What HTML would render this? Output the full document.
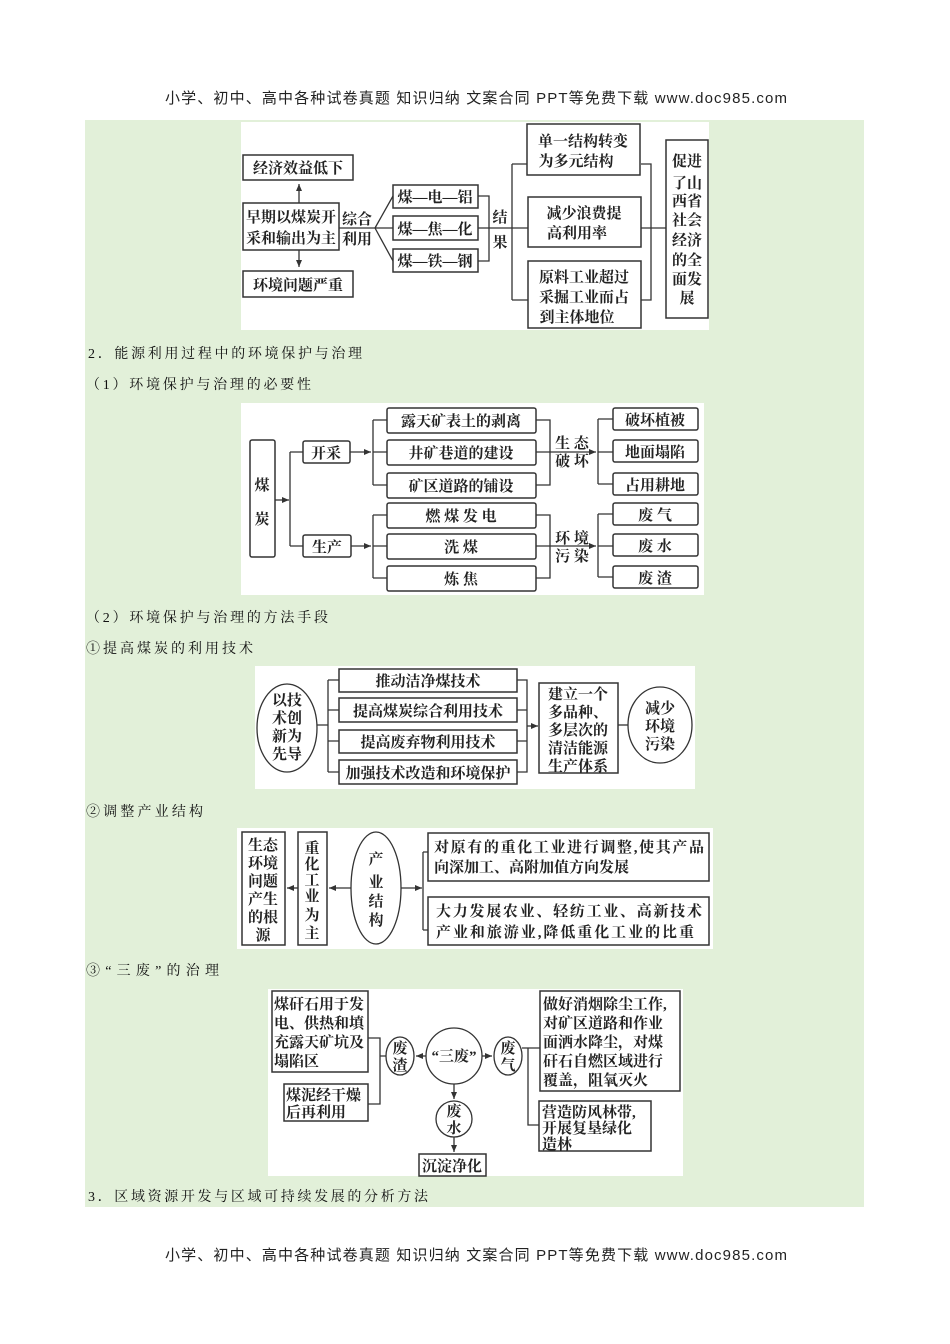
<!DOCTYPE html>
<html><head><meta charset="utf-8"><style>
html,body{margin:0;padding:0;background:#fff;}
svg{display:block;}
.h{font-family:"Liberation Sans","Noto Sans CJK SC",sans-serif;font-size:15px;fill:#222;}
.t{font-family:"Liberation Serif","Noto Serif CJK SC",serif;font-size:14px;fill:#111;}
.b{font-family:"Liberation Serif","Noto Serif CJK SC",serif;font-size:15px;font-weight:bold;fill:#222;}
rect.x{fill:#fff;stroke:#333;stroke-width:1.5;}
.l{fill:none;stroke:#333;stroke-width:1.3;}
ellipse{fill:#fff;stroke:#333;stroke-width:1.3;}
</style></head><body>
<svg width="950" height="1344" viewBox="0 0 950 1344" xmlns="http://www.w3.org/2000/svg">
<defs><marker id="a" markerWidth="8" markerHeight="8" refX="7" refY="4" orient="auto" markerUnits="userSpaceOnUse"><path d="M0,1 L7,4 L0,7 Z" fill="#333"/></marker></defs>
<text class="h" x="165" y="103" textLength="622" lengthAdjust="spacing">小学、初中、高中各种试卷真题  知识归纳  文案合同  PPT等免费下载      www.doc985.com</text>
<text class="h" x="165" y="1260" textLength="622" lengthAdjust="spacing">小学、初中、高中各种试卷真题  知识归纳  文案合同  PPT等免费下载      www.doc985.com</text>
<rect x="85" y="120" width="779" height="1087" fill="#e2f0d9"/>

<!-- Diagram 1 -->
<rect x="241" y="122" width="468" height="208" fill="#fff"/>
<rect class="x" x="243" y="155" width="110" height="25"/><text class="b" x="298" y="173" text-anchor="middle">经济效益低下</text>
<rect class="x" x="243" y="203" width="96" height="47"/><text class="b" x="291" y="222" text-anchor="middle">早期以煤炭开</text><text class="b" x="291" y="243" text-anchor="middle">采和输出为主</text>
<rect class="x" x="243" y="271" width="110" height="26"/><text class="b" x="298" y="290" text-anchor="middle">环境问题严重</text>
<path class="l" d="M299,203 V184" marker-end="url(#a)"/><path class="l" d="M299,250 V267" marker-end="url(#a)"/>
<text class="b" x="357" y="224" text-anchor="middle">综合</text><text class="b" x="357" y="244" text-anchor="middle">利用</text>
<path class="l" d="M339,228 H375 M375,228 L393,196 M375,228 H393 M375,228 L393,261"/>
<rect class="x" x="393" y="185" width="85" height="23"/><text class="b" x="435" y="202" text-anchor="middle">煤—电—铝</text>
<rect class="x" x="393" y="216" width="85" height="24"/><text class="b" x="435" y="234" text-anchor="middle">煤—焦—化</text>
<rect class="x" x="393" y="249" width="85" height="23"/><text class="b" x="435" y="266" text-anchor="middle">煤—铁—钢</text>
<path class="l" d="M478,196 H489 V261 H478 M478,228 H528"/>
<text class="b" x="500" y="222" text-anchor="middle">结</text><text class="b" x="500" y="247" text-anchor="middle">果</text>
<path class="l" d="M512,164 V300 M512,164 H528 M512,300 H528"/>
<rect class="x" x="527" y="124" width="113" height="51"/><text class="b" x="583" y="146" text-anchor="middle">单一结构转变</text><text class="b" x="576" y="166" text-anchor="middle">为多元结构</text>
<rect class="x" x="528" y="197" width="113" height="50"/><text class="b" x="584" y="218" text-anchor="middle">减少浪费提</text><text class="b" x="577" y="238" text-anchor="middle">高利用率</text>
<rect class="x" x="528" y="261" width="113" height="67"/><text class="b" x="584" y="282" text-anchor="middle">原料工业超过</text><text class="b" x="584" y="302" text-anchor="middle">采掘工业而占</text><text class="b" x="577" y="322" text-anchor="middle">到主体地位</text>
<path class="l" d="M641,164 H651 V300 H641 M641,228 H666"/>
<rect class="x" x="666" y="140" width="42" height="178"/>
<text class="b" x="687" y="166" text-anchor="middle">促进</text><text class="b" x="687" y="188" text-anchor="middle">了山</text><text class="b" x="687" y="206" text-anchor="middle">西省</text><text class="b" x="687" y="225" text-anchor="middle">社会</text><text class="b" x="687" y="245" text-anchor="middle">经济</text><text class="b" x="687" y="265" text-anchor="middle">的全</text><text class="b" x="687" y="284" text-anchor="middle">面发</text><text class="b" x="687" y="303" text-anchor="middle">展</text>

<text class="t" x="88" y="358" textLength="274" lengthAdjust="spacing">2．能源利用过程中的环境保护与治理</text>
<text class="t" x="86" y="389" textLength="225" lengthAdjust="spacing">（1）环境保护与治理的必要性</text>

<!-- Diagram 2 -->
<rect x="241" y="403" width="463" height="192" fill="#fff"/>
<rect class="x" x="250" y="440" width="25" height="117" rx="2"/><text class="b" x="262" y="490" text-anchor="middle">煤</text><text class="b" x="262" y="524" text-anchor="middle">炭</text>
<path class="l" d="M275,500 H289" marker-end="url(#a)"/><path class="l" d="M290,452 V546 M290,452 H303 M290,546 H303"/>
<rect class="x" x="303" y="441" width="47" height="22" rx="2"/><text class="b" x="326" y="458" text-anchor="middle">开采</text>
<rect class="x" x="303" y="535" width="48" height="22" rx="2"/><text class="b" x="327" y="552" text-anchor="middle">生产</text>
<path class="l" d="M350,452 H371" marker-end="url(#a)"/><path class="l" d="M351,546 H371" marker-end="url(#a)"/>
<path class="l" d="M373,420 V485 M373,420 H387 M373,452 H387 M373,485 H387 M373,515 V578 M373,515 H387 M373,546 H387 M373,578 H387"/>
<rect class="x" x="387" y="408" width="149" height="25" rx="2"/><text class="b" x="461" y="426" text-anchor="middle">露天矿表土的剥离</text>
<rect class="x" x="387" y="440" width="149" height="25" rx="2"/><text class="b" x="461" y="458" text-anchor="middle">井矿巷道的建设</text>
<rect class="x" x="387" y="473" width="149" height="25" rx="2"/><text class="b" x="461" y="491" text-anchor="middle">矿区道路的铺设</text>
<rect class="x" x="387" y="503" width="149" height="25" rx="2"/><text class="b" x="461" y="521" text-anchor="middle">燃 煤 发 电</text>
<rect class="x" x="387" y="534" width="149" height="25" rx="2"/><text class="b" x="461" y="552" text-anchor="middle">洗  煤</text>
<rect class="x" x="387" y="566" width="149" height="25" rx="2"/><text class="b" x="461" y="584" text-anchor="middle">炼  焦</text>
<path class="l" d="M536,420 H550 V485 H536 M536,515 H550 V578 H536"/>
<path class="l" d="M536,452 H596" marker-end="url(#a)"/><path class="l" d="M536,546 H596" marker-end="url(#a)"/>
<text class="b" x="572" y="448" text-anchor="middle">生 态</text><text class="b" x="572" y="466" text-anchor="middle">破 坏</text>
<text class="b" x="572" y="543" text-anchor="middle">环 境</text><text class="b" x="572" y="561" text-anchor="middle">污 染</text>
<path class="l" d="M598,419 V484 M598,419 H613 M598,452 H613 M598,484 H613 M598,514 V577 M598,514 H613 M598,546 H613 M598,577 H613"/>
<rect class="x" x="613" y="408" width="85" height="22" rx="2"/><text class="b" x="655" y="425" text-anchor="middle">破坏植被</text>
<rect class="x" x="613" y="440" width="85" height="22" rx="2"/><text class="b" x="655" y="457" text-anchor="middle">地面塌陷</text>
<rect class="x" x="613" y="473" width="85" height="22" rx="2"/><text class="b" x="655" y="490" text-anchor="middle">占用耕地</text>
<rect class="x" x="613" y="503" width="85" height="22" rx="2"/><text class="b" x="655" y="520" text-anchor="middle">废 气</text>
<rect class="x" x="613" y="534" width="85" height="22" rx="2"/><text class="b" x="655" y="551" text-anchor="middle">废 水</text>
<rect class="x" x="613" y="566" width="85" height="22" rx="2"/><text class="b" x="655" y="583" text-anchor="middle">废 渣</text>

<text class="t" x="86" y="622" textLength="242" lengthAdjust="spacing">（2）环境保护与治理的方法手段</text>
<text class="t" x="86" y="653" textLength="167" lengthAdjust="spacing">①提高煤炭的利用技术</text>

<!-- Diagram 3 -->
<rect x="255" y="666" width="440" height="123" fill="#fff"/>
<ellipse cx="287" cy="728" rx="30" ry="44"/>
<text class="b" x="287" y="705" text-anchor="middle">以技</text><text class="b" x="287" y="723" text-anchor="middle">术创</text><text class="b" x="287" y="741" text-anchor="middle">新为</text><text class="b" x="287" y="759" text-anchor="middle">先导</text>
<path class="l" d="M317,725 H328 M328,680 V772 M328,680 H339 M328,710 H339 M328,741 H339 M328,772 H339"/>
<rect class="x" x="339" y="669" width="178" height="23"/><text class="b" x="428" y="686" text-anchor="middle">推动洁净煤技术</text>
<rect class="x" x="339" y="698" width="178" height="24"/><text class="b" x="428" y="716" text-anchor="middle">提高煤炭综合利用技术</text>
<rect class="x" x="339" y="730" width="178" height="23"/><text class="b" x="428" y="747" text-anchor="middle">提高废弃物利用技术</text>
<rect class="x" x="339" y="760" width="178" height="24"/><text class="b" x="428" y="778" text-anchor="middle">加强技术改造和环境保护</text>
<path class="l" d="M517,680 H527 V772 H517 M517,710 H527 M517,741 H527"/><path class="l" d="M527,726 H538" marker-end="url(#a)"/>
<rect class="x" x="539" y="683" width="79" height="90"/>
<text class="b" x="578" y="699" text-anchor="middle">建立一个</text><text class="b" x="578" y="717" text-anchor="middle">多品种、</text><text class="b" x="578" y="735" text-anchor="middle">多层次的</text><text class="b" x="578" y="753" text-anchor="middle">清洁能源</text><text class="b" x="578" y="771" text-anchor="middle">生产体系</text>
<path class="l" d="M618,725 H628"/>
<ellipse cx="660" cy="725" rx="32" ry="38"/>
<text class="b" x="660" y="713" text-anchor="middle">减少</text><text class="b" x="660" y="731" text-anchor="middle">环境</text><text class="b" x="660" y="749" text-anchor="middle">污染</text>

<text class="t" x="86" y="816" textLength="117" lengthAdjust="spacing">②调整产业结构</text>

<!-- Diagram 4 -->
<rect x="237" y="828" width="476" height="121" fill="#fff"/>
<rect class="x" x="242" y="832" width="43" height="113"/>
<text class="b" x="263" y="850" text-anchor="middle">生态</text><text class="b" x="263" y="868" text-anchor="middle">环境</text><text class="b" x="263" y="886" text-anchor="middle">问题</text><text class="b" x="263" y="904" text-anchor="middle">产生</text><text class="b" x="263" y="922" text-anchor="middle">的根</text><text class="b" x="263" y="940" text-anchor="middle">源</text>
<rect class="x" x="298" y="832" width="29" height="113"/>
<text class="b" x="312" y="853" text-anchor="middle">重</text><text class="b" x="312" y="869" text-anchor="middle">化</text><text class="b" x="312" y="885" text-anchor="middle">工</text><text class="b" x="312" y="901" text-anchor="middle">业</text><text class="b" x="312" y="920" text-anchor="middle">为</text><text class="b" x="312" y="938" text-anchor="middle">主</text>
<ellipse cx="376" cy="888" rx="25" ry="56"/>
<text class="b" x="376" y="864" text-anchor="middle">产</text><text class="b" x="376" y="887" text-anchor="middle">业</text><text class="b" x="376" y="906" text-anchor="middle">结</text><text class="b" x="376" y="925" text-anchor="middle">构</text>
<path class="l" d="M351,888 H329" marker-end="url(#a)"/><path class="l" d="M298,888 H287" marker-end="url(#a)"/>
<path class="l" d="M401,888 H422" marker-end="url(#a)"/><path class="l" d="M423,852 V930 M423,852 H428 M423,930 H428"/>
<rect class="x" x="428" y="833" width="281" height="48"/>
<text class="b" x="434" y="852" textLength="270" lengthAdjust="spacing">对原有的重化工业进行调整,使其产品</text><text class="b" x="434" y="872">向深加工、高附加值方向发展</text>
<rect class="x" x="428" y="897" width="281" height="48"/>
<text class="b" x="436" y="916" textLength="266" lengthAdjust="spacing">大力发展农业、轻纺工业、高新技术</text><text class="b" x="436" y="937" textLength="258" lengthAdjust="spacing">产业和旅游业,降低重化工业的比重</text>

<text class="t" x="86" y="975" textLength="133" lengthAdjust="spacing">③“三废”的治理</text>

<!-- Diagram 5 -->
<rect x="268" y="989" width="415" height="187" fill="#fff"/>
<rect class="x" x="272" y="991" width="96" height="81"/>
<text class="b" x="274" y="1009">煤矸石用于发</text><text class="b" x="274" y="1028">电、供热和填</text><text class="b" x="274" y="1047">充露天矿坑及</text><text class="b" x="274" y="1066">塌陷区</text>
<rect class="x" x="284" y="1084" width="84" height="37"/>
<text class="b" x="286" y="1100">煤泥经干燥</text><text class="b" x="286" y="1117">后再利用</text>
<path class="l" d="M368,1038 H380 V1104 H368 M380,1056 H386"/>
<ellipse cx="400" cy="1056" rx="14" ry="19"/>
<text class="b" x="400" y="1053" text-anchor="middle">废</text><text class="b" x="400" y="1070" text-anchor="middle">渣</text>
<ellipse cx="454" cy="1056" rx="28" ry="28"/>
<text class="b" x="454" y="1061" text-anchor="middle">“三废”</text>
<path class="l" d="M426,1056 H416" marker-end="url(#a)"/><path class="l" d="M482,1056 H492" marker-end="url(#a)"/>
<ellipse cx="508" cy="1056" rx="14" ry="19"/>
<text class="b" x="508" y="1053" text-anchor="middle">废</text><text class="b" x="508" y="1070" text-anchor="middle">气</text>
<path class="l" d="M454,1084 V1099" marker-end="url(#a)"/>
<ellipse cx="454" cy="1119" rx="18" ry="18"/>
<text class="b" x="454" y="1116" text-anchor="middle">废</text><text class="b" x="454" y="1133" text-anchor="middle">水</text>
<path class="l" d="M454,1137 V1152" marker-end="url(#a)"/>
<rect class="x" x="419" y="1154" width="67" height="22"/><text class="b" x="452" y="1171" text-anchor="middle">沉淀净化</text>
<path class="l" d="M522,1048 H540 M528,1048 V1125 H539"/>
<rect class="x" x="540" y="991" width="140" height="100"/>
<text class="b" x="543" y="1009">做好消烟除尘工作,</text><text class="b" x="543" y="1028">对矿区道路和作业</text><text class="b" x="543" y="1047">面洒水降尘，对煤</text><text class="b" x="543" y="1066">矸石自燃区域进行</text><text class="b" x="543" y="1085">覆盖，阻氧灭火</text>
<rect class="x" x="539" y="1101" width="112" height="50"/>
<text class="b" x="542" y="1117">营造防风林带,</text><text class="b" x="542" y="1133">开展复垦绿化</text><text class="b" x="542" y="1149">造林</text>

<text class="t" x="88" y="1201" textLength="340" lengthAdjust="spacing">3．区域资源开发与区域可持续发展的分析方法</text>
</svg>
</body></html>
